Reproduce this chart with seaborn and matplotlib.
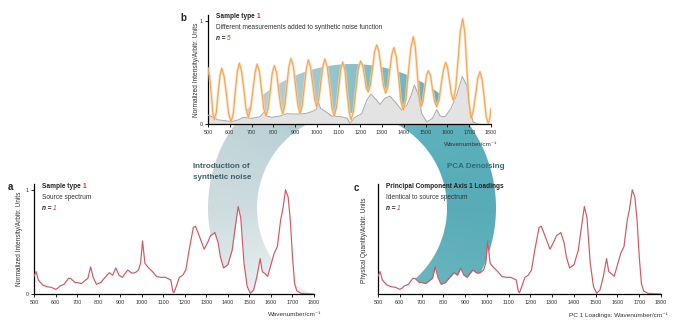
import numpy as np
import pandas as pd
import matplotlib
matplotlib.use("Agg")
import matplotlib.pyplot as plt
from matplotlib.text import Annotation
import seaborn as sns

# ---------------- data ----------------
xticks = [500, 600, 700, 800, 900, 1000, 1100, 1200, 1300, 1400, 1500, 1600, 1700, 1800]
xtick_labels = [str(v) for v in xticks]
yticks = [0, 1]
ytick_labels = ["0", "1"]

# source spectrum (panel a) == PC1 loadings (panel c)
src_wn = [500, 510, 520, 540, 560, 580, 600, 610, 620, 640, 660, 670, 690, 700, 720, 740, 750,
          763, 775, 790, 810, 830, 850, 865, 880, 895, 910, 935, 955, 970, 985, 995, 1004, 1015,
          1030, 1050, 1070, 1090, 1110, 1125, 1135, 1145, 1150, 1160, 1175, 1190, 1205, 1220,
          1240, 1250, 1265, 1290, 1305, 1320, 1340, 1355, 1365, 1380, 1400, 1420, 1435, 1448,
          1460, 1475, 1490, 1505, 1520, 1535, 1550, 1560, 1575, 1585, 1600, 1615, 1630, 1645,
          1655, 1668, 1680, 1690, 1700, 1710, 1720, 1740, 1800]
src_val = [0.17, 0.215, 0.135, 0.087, 0.07, 0.064, 0.045, 0.055, 0.077, 0.093, 0.15, 0.15, 0.11,
           0.11, 0.10, 0.135, 0.15, 0.26, 0.16, 0.093, 0.11, 0.16, 0.205, 0.18, 0.25, 0.18, 0.16,
           0.23, 0.20, 0.205, 0.23, 0.295, 0.51, 0.295, 0.256, 0.215, 0.167, 0.16, 0.16, 0.145,
           0.135, 0.022, 0.013, 0.07, 0.16, 0.18, 0.23, 0.42, 0.64, 0.65, 0.57, 0.43, 0.49, 0.56,
           0.59, 0.49, 0.36, 0.25, 0.28, 0.42, 0.65, 0.84, 0.73, 0.295, 0.07, 0.006, 0.04, 0.167,
           0.34, 0.215, 0.19, 0.17, 0.28, 0.39, 0.455, 0.71, 0.81, 1.0, 0.93, 0.71, 0.36, 0.10,
           0.03, 0.006, 0.0]

# synthetic-noise measurements (panel b, orange)
noise_wn = [500, 507, 515, 522, 529, 538, 546, 555, 563, 574, 585, 595, 606, 616, 625, 635, 644,
            654, 665, 675, 685, 695, 706, 716, 726, 736, 746, 756, 766, 776, 786, 795, 805, 815,
            824, 834, 843, 853, 862, 872, 881, 892, 902, 913, 923, 933, 942, 952, 961, 971, 980,
            990, 999, 1009, 1018, 1028, 1037, 1048, 1059, 1069, 1080, 1090, 1100, 1109, 1119,
            1129, 1138, 1148, 1157, 1168, 1179, 1190, 1201, 1210, 1219, 1227, 1236, 1246, 1256,
            1265, 1275, 1285, 1296, 1306, 1316, 1326, 1335, 1345, 1354, 1365, 1376, 1386, 1397,
            1409, 1420, 1432, 1443, 1452, 1461, 1469, 1478, 1487, 1495, 1504, 1512, 1522, 1531,
            1541, 1550, 1561, 1571, 1582, 1592, 1601, 1610, 1618, 1627, 1638, 1649, 1659, 1670,
            1680, 1689, 1699, 1708, 1718, 1729, 1739, 1749, 1759, 1769, 1778, 1788, 1794, 1800]
noise_val = [0.54, 0.47, 0.29, 0.11, 0.04, 0.11, 0.29, 0.47, 0.54, 0.46, 0.28, 0.10, 0.02, 0.10,
             0.31, 0.51, 0.59, 0.51, 0.33, 0.14, 0.065, 0.14, 0.32, 0.50, 0.58, 0.51, 0.33, 0.15,
             0.08, 0.15, 0.32, 0.49, 0.565, 0.50, 0.33, 0.17, 0.10, 0.18, 0.37, 0.56, 0.635, 0.56,
             0.37, 0.18, 0.10, 0.18, 0.36, 0.54, 0.62, 0.55, 0.40, 0.24, 0.17, 0.24, 0.40, 0.56,
             0.63, 0.55, 0.36, 0.16, 0.08, 0.16, 0.34, 0.52, 0.60, 0.52, 0.32, 0.12, 0.04, 0.12,
             0.33, 0.53, 0.61, 0.57, 0.46, 0.35, 0.31, 0.38, 0.54, 0.70, 0.765, 0.70, 0.53, 0.37,
             0.30, 0.36, 0.52, 0.68, 0.74, 0.65, 0.44, 0.22, 0.135, 0.24, 0.49, 0.74, 0.845, 0.75,
             0.51, 0.27, 0.168, 0.22, 0.34, 0.47, 0.516, 0.47, 0.34, 0.22, 0.168, 0.23, 0.38, 0.53,
             0.597, 0.54, 0.41, 0.29, 0.232, 0.35, 0.63, 0.90, 1.02, 0.88, 0.54, 0.20, 0.055, 0.12,
             0.28, 0.44, 0.506, 0.43, 0.25, 0.07, 0.0, 0.05, 0.15]

# underlying spectrum in panel b (grey)
under_wn = [500, 517, 547, 609, 639, 662, 700, 739, 759, 770, 793, 831, 862, 885, 915, 946, 977,
            997, 1007, 1017, 1030, 1068, 1114, 1140, 1152, 1175, 1206, 1229, 1249, 1275, 1290,
            1313, 1336, 1359, 1390, 1413, 1431, 1448, 1463, 1482, 1505, 1531, 1551, 1566, 1589,
            1616, 1642, 1668, 1688, 1703, 1718, 1741, 1750]
under_val = [0.087, 0.07, 0.04, 0.023, 0.04, 0.065, 0.055, 0.07, 0.12, 0.077, 0.065, 0.077, 0.10,
             0.097, 0.097, 0.10, 0.12, 0.14, 0.216, 0.15, 0.135, 0.077, 0.07, 0.055, 0.006, 0.065,
             0.10, 0.23, 0.29, 0.23, 0.19, 0.25, 0.27, 0.216, 0.135, 0.18, 0.265, 0.377, 0.30,
             0.10, 0.02, 0.055, 0.14, 0.077, 0.07, 0.15, 0.28, 0.46, 0.377, 0.15, 0.02, 0.0, 0.0]

# ---------------- style ----------------
W, H = 677, 326
sns.set_theme(style="ticks")
plt.rcParams["font.family"] = ["Liberation Sans", "DejaVu Sans"]

RED_LINE = "#cc5a64"
ORANGE = "#f4a048"
ORANGE_HALO = "#fbd0a2"
GREY_LINE = "#acacac"
GREY_FILL = "#e3e3e3"
TXT = "#222222"
HL = "#e8202a"
YTOP = 1.056

fig = plt.figure(figsize=(W / 100, H / 100), dpi=100)
fig.patch.set_facecolor("white")


def ax_at(l, t, r, b):
    return fig.add_axes([l / W, 1 - b / H, (r - l) / W, (b - t) / H], zorder=2)


# ---------------- background ring (decorative arrows) ----------------
ring = fig.add_axes([0, 0, 1, 1], zorder=0)
ring.set_xlim(0, W)
ring.set_ylim(H, 0)
ring.axis("off")
cx, cy, r_out, r_in = 352.0, 208.0, 144.0, 95.0
yy, xx = np.mgrid[0:H, 0:W] + 0.5
dx, dy = xx - cx, cy - yy
rr = np.hypot(dx, dy)
phi = np.degrees(np.arctan2(dy, dx))
phi[phi < -90] += 360
stop_phi = [-60, 0, 45, 80, 110, 140, 180, 225]
stop_col = ["#6fb8c1", "#58acb8", "#5db1bc", "#7abdc6", "#a6cbd1", "#bed3d7", "#cedcdf", "#eaf0f0"]
stop_rgb = np.array([matplotlib.colors.to_rgb(c) for c in stop_col])
rgba = np.zeros((H, W, 4))
for i in range(3):
    rgba[..., i] = np.interp(phi, stop_phi, stop_rgb[:, i])
alpha = np.clip(r_out - rr + 0.5, 0, 1) * np.clip(rr - r_in + 0.5, 0, 1)
alpha *= np.clip(294.5 - yy, 0, 1)
rgba[..., 3] = alpha
ring.imshow(rgba, extent=(0, W, H, 0), interpolation="bilinear", zorder=0)


def style_axes(ax, show_y=True):
    ax.set_facecolor("none")
    ax.set_xlim(500, 1800)
    ax.set_ylim(0, YTOP)
    ax.set_xticks(xticks)
    ax.set_xticklabels(xtick_labels)
    if show_y:
        ax.set_yticks(yticks)
        ax.set_yticklabels(ytick_labels)
    else:
        ax.set_yticks([])
    ax.tick_params(axis="both", direction="out", length=2.5, width=0.7, color=TXT,
                   labelsize=3.9, labelcolor="#333333", pad=1.5)
    for s in ["top", "right"]:
        ax.spines[s].set_visible(False)
    for s in ["left", "bottom"]:
        ax.spines[s].set_linewidth(0.9)
        ax.spines[s].set_color("black")
    ax.set_xlabel("")
    ax.set_ylabel("")


def draw_spectrum(ax, wn, val):
    ax.fill_between(wn, 0, val, color="white", lw=0, zorder=1)
    df = pd.DataFrame({"wn": wn, "val": val})
    sns.lineplot(data=df, x="wn", y="val", ax=ax, color=RED_LINE, lw=0.85,
                 estimator=None, sort=False, zorder=3)


# ---------------- panel b ----------------
ax_b = ax_at(208, 15, 491, 124)
ax_b.fill_between(noise_wn, 0, noise_val, color="white", lw=0, zorder=1)
ax_b.fill_between(under_wn, 0, under_val, color=GREY_FILL, lw=0, zorder=2)
dfu = pd.DataFrame({"wn": under_wn, "val": under_val})
sns.lineplot(data=dfu, x="wn", y="val", ax=ax_b, color=GREY_LINE, lw=0.75,
             estimator=None, sort=False, zorder=3)
dfn = pd.DataFrame({"wn": noise_wn, "val": noise_val})
sns.lineplot(data=dfn, x="wn", y="val", ax=ax_b, color=ORANGE_HALO, lw=1.8, alpha=0.8,
             estimator=None, sort=False, zorder=4)
sns.lineplot(data=dfn, x="wn", y="val", ax=ax_b, color=ORANGE, lw=0.65,
             estimator=None, sort=False, zorder=5)
style_axes(ax_b)

# ---------------- panel a ----------------
ax_a = ax_at(34, 184, 314, 294)
draw_spectrum(ax_a, src_wn, src_val)
style_axes(ax_a)

# ---------------- panel c ----------------
ax_c = ax_at(378, 184, 661, 294)
draw_spectrum(ax_c, src_wn, src_val)
style_axes(ax_c, show_y=False)


# ---------------- texts ----------------
def ftext(x, y, s, **kw):
    return fig.text(x / W, 1 - y / H, s, **kw)


def rich(x, y, parts, size):
    prev = None
    for s, kw in parts:
        st = dict(fontsize=size, color=TXT)
        st.update(kw)
        if prev is None:
            prev = ftext(x, y, s, ha="left", va="center", **st)
        else:
            a = Annotation(s, xy=(1, 0), xycoords=prev, ha="left", va="bottom", **st)
            fig.add_artist(a)
            prev = a


FS = 4.7
# panel letters
ftext(8, 187, "a", fontsize=7, fontweight="bold", color=TXT, ha="left", va="center")
ftext(180, 18, "b", fontsize=7, fontweight="bold", color=TXT, ha="left", va="center")
ftext(354, 188, "c", fontsize=7, fontweight="bold", color=TXT, ha="left", va="center")

# panel b headings
rich(216, 17, [("Sample type ", dict(fontweight="bold")), ("1", dict(fontweight="bold", color=HL))], FS)
rich(216, 27.5, [("Different measurements added to synthetic noise function", dict(color="#333333"))], FS)
rich(216, 38.5, [("n", dict(style="italic", fontweight="bold")), (" = ", dict(fontweight="bold")),
                 ("5", dict(style="italic", color=HL))], FS)

# panel a headings
rich(42, 187, [("Sample type ", dict(fontweight="bold")), ("1", dict(fontweight="bold", color=HL))], FS)
rich(42, 197.5, [("Source spectrum", dict(color="#333333"))], FS)
rich(42, 208.5, [("n", dict(style="italic", fontweight="bold")), (" = ", dict(fontweight="bold")),
                 ("1", dict(style="italic", color=HL))], FS)

# panel c headings
rich(386, 187, [("Principal Component Axis 1 Loadings", dict(fontweight="bold"))], FS)
rich(386, 197.5, [("Identical to source spectrum", dict(color="#333333"))], FS)
rich(386, 208.5, [("n", dict(style="italic", fontweight="bold")), (" = ", dict(fontweight="bold")),
                  ("1", dict(style="italic", color=HL))], FS)

# axis labels
YL = dict(fontsize=4.7, color="#333333", rotation=90, ha="center", va="center")
ftext(20, 239, "Normalized Intensity/Arbitr. Units", **YL)
ftext(196, 70, "Normalized Intensity/Arbitr. Units", **YL)
ftext(365, 240, "Physical Quantity/Arbitr. Units", **YL)
XL = dict(fontsize=4.6, color="#333333", ha="right", va="center")
ftext(321, 314, "Wavenumber/cm\u207b\u00b9", **XL)
ftext(497, 144, "Wavenumber/cm\u207b\u00b9", **XL)
ftext(668, 315, "PC 1 Loadings: Wavenumber/cm\u207b\u00b9", **XL)

# arrow captions
ftext(193, 166.5, "Introduction of", fontsize=5.8, fontweight="bold", color="#3d6068",
      ha="left", va="center")
ftext(193, 177.5, "synthetic noise", fontsize=5.8, fontweight="bold", color="#3d6068",
      ha="left", va="center")
ftext(447, 166.5, "PCA Denoising", fontsize=5.8, fontweight="bold", color="#2d6c76",
      ha="left", va="center")

fig.savefig("out.png", dpi=100, facecolor="white")
